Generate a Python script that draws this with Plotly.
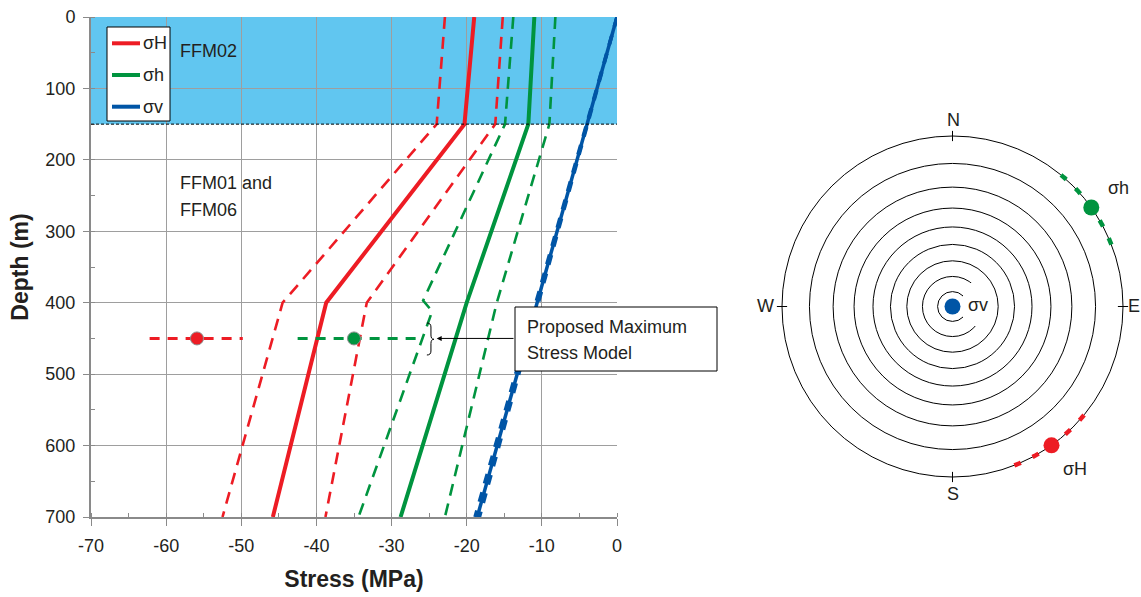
import numpy as np
import plotly.graph_objects as go

# ---------------- stress profiles (MPa, compression negative) vs depth (m) ----------------
DEPTH_SH = [0, 150, 400, 700]
SH_MEAN = [-19.0, -20.3, -38.7, -45.8]
SH_LOWER = [-22.9, -24.0, -44.5, -52.5]
SH_UPPER = [-15.2, -16.2, -33.3, -38.8]

DEPTH_Sh = [0, 150, 400, 700]
Sh_MEAN = [-11.0, -11.8, -20.0, -28.8]
DEPTH_Sh_LOWER = [0, 150, 397, 412, 700]
Sh_LOWER = [-13.8, -14.9, -25.8, -24.6, -34.4]
Sh_UPPER = [-8.2, -9.0, -16.0, -22.9]

DEPTH_SV = [0, 700]
SV_MEAN = [0.0, -18.6]
SV_LOWER = [0.0, -18.9]
SV_UPPER = [0.0, -18.3]

# proposed maximum stress model at repository depth
MEAS_DEPTH = 450
SH_MEAS = -55.9
SH_MEAS_RANGE = [-62.2, -49.8]
Sh_MEAS = -35.0
Sh_MEAS_RANGE = [-42.5, -26.4]

FFM02_BASE = 150  # depth of the FFM02 / FFM01-FFM06 boundary

STRESS_TICKS = [-70, -60, -50, -40, -30, -20, -10, 0]
DEPTH_TICKS = [0, 100, 200, 300, 400, 500, 600, 700]

# ---------------- stereonet (trend / plunge in degrees) ----------------
SH_TREND, SH_PLUNGE = 144.5, 0
SH_TREND_RANGE = [129.5, 159.5]
Sh_TREND, Sh_PLUNGE = 54.5, 0
Sh_TREND_RANGE = [39.5, 69.5]
SV_TREND, SV_PLUNGE = 0, 90
CONE_PLUNGES = [80, 70, 60, 50, 40, 30, 20, 10, 0]
CARDINALS = [0, 90, 180, 270]

LEGEND_NAMES = ["σH", "σh", "σv"]

RED = "#ED1C24"
GREEN = "#00943F"
BLUE = "#0055A6"
BAND = "#61C6F0"
GRID = "#9E9E9E"
AXIS = "#8A8A8A"
TEXT = "#231F20"
FONT = "Liberation Sans, Arial, sans-serif"

W, H = 1141, 597
ML, MR, MT, MB = 91, 0, 17, 80
PW, PH = W - ML - MR, H - MT - MB


def px_x(px):
    return (px - ML) / PW


def px_y(py):
    return (H - MB - py) / PH


def stereo_r(plunge):
    """Equal-angle (stereographic) radius for a line of given plunge."""
    return np.tan(np.radians(90 - np.asarray(plunge, dtype=float)) / 2)


fig = go.Figure()


def profile(x, y, color, width, dash=None):
    fig.add_trace(go.Scatter(
        x=x, y=y, mode="lines",
        line=dict(color=color, width=width, dash=dash),
        showlegend=False, hoverinfo="skip",
    ))


DASH = "12px,8px"
profile(SH_LOWER, DEPTH_SH, RED, 2.6, DASH)
profile(SH_UPPER, DEPTH_SH, RED, 2.6, DASH)
profile(Sh_LOWER, DEPTH_Sh_LOWER, GREEN, 2.6, DASH)
profile(Sh_UPPER, DEPTH_Sh, GREEN, 2.6, DASH)
profile(SH_MEAN, DEPTH_SH, RED, 4)
profile(Sh_MEAN, DEPTH_Sh, GREEN, 4)
profile(SV_MEAN, DEPTH_SV, BLUE, 3.5)
profile(SV_LOWER, DEPTH_SV, BLUE, 3.5, "10px,9px")
profile(SV_UPPER, DEPTH_SV, BLUE, 3.5, "10px,9px")

# stress ranges and best estimates at repository depth
for rng, val, color in [(SH_MEAS_RANGE, SH_MEAS, RED), (Sh_MEAS_RANGE, Sh_MEAS, GREEN)]:
    fig.add_trace(go.Scatter(
        x=rng, y=[MEAS_DEPTH, MEAS_DEPTH], mode="lines",
        line=dict(color=color, width=3, dash="10px,8px"),
        showlegend=False, hoverinfo="skip",
    ))
    fig.add_trace(go.Scatter(
        x=[val], y=[MEAS_DEPTH], mode="markers",
        marker=dict(color=color, size=13, line=dict(color="#8C8C8C", width=1)),
        showlegend=False, hoverinfo="skip",
    ))

# ---------------- stereonet ----------------
R_MAX = 1.04  # a little room beyond the primitive circle for ticks and arcs

# cardinal tick marks crossing the primitive circle
tick_r, tick_t = [], []
for t in CARDINALS:
    tick_r += [0.97, 1.03, None]
    tick_t += [t, t, None]
fig.add_trace(go.Scatterpolar(
    r=tick_r, theta=tick_t, mode="lines", line=dict(color="black", width=1),
    showlegend=False, hoverinfo="skip", subplot="polar",
))

for trng, color in [(Sh_TREND_RANGE, GREEN), (SH_TREND_RANGE, RED)]:
    arc_t = np.arange(trng[0], trng[1] + 0.01, 0.5)
    fig.add_trace(go.Scatterpolar(
        r=np.full(arc_t.shape, float(stereo_r(0))), theta=arc_t, mode="lines",
        line=dict(color=color, width=4.5, dash="7px,13px"),
        showlegend=False, hoverinfo="skip", subplot="polar",
    ))

fig.add_trace(go.Scatterpolar(
    r=stereo_r([Sh_PLUNGE, SH_PLUNGE, SV_PLUNGE]),
    theta=[Sh_TREND, SH_TREND, SV_TREND], mode="markers",
    marker=dict(color=[GREEN, RED, BLUE], size=16),
    showlegend=False, hoverinfo="skip", subplot="polar",
))

cx, cy, rad = 952.5, 306.5, 170.5
rad_dom = rad * R_MAX

shapes = [
    # FFM02 layer
    dict(type="rect", xref="x", yref="y", x0=-70, x1=0, y0=0, y1=FFM02_BASE,
         fillcolor=BAND, line=dict(width=0), layer="below"),
    dict(type="line", xref="x", yref="y", x0=-70, x1=0, y0=FFM02_BASE, y1=FFM02_BASE,
         line=dict(color="black", width=1, dash="3px,2px"), layer="above"),
    # call-out box
    dict(type="rect", xref="paper", yref="paper",
         x0=px_x(515), x1=px_x(717), y0=px_y(371), y1=px_y(307),
         fillcolor="white", line=dict(color="black", width=1), layer="above"),
    # brace marking the proposed range
    dict(type="path", xref="x", yref="y", layer="above",
         path=("M -25.3,428.4 Q -24.76,428.4 -24.76,434 L -24.76,445.2 "
               "Q -24.76,451.2 -24.36,451.2 Q -24.76,451.2 -24.76,457.2 "
               "L -24.76,467.6 Q -24.76,473.2 -25.3,473.2"),
         line=dict(color="black", width=1)),
    # white backing for the sigma-v label in the stereonet
    dict(type="rect", xref="paper", yref="paper",
         x0=px_x(963), x1=px_x(990), y0=px_y(326), y1=px_y(283),
         fillcolor="white", line=dict(width=0), layer="above"),
    # legend frame
    dict(type="rect", xref="paper", yref="paper",
         x0=px_x(107), x1=px_x(170), y0=px_y(121), y1=px_y(27),
         fillcolor="white", line=dict(color="black", width=1), layer="above"),
]


def label(text, x, y, xanchor="center", size=18, xref="paper", yref="paper"):
    return dict(text=text, x=x, y=y, xref=xref, yref=yref, xanchor=xanchor,
                yanchor="middle", showarrow=False, font=dict(size=size, color=TEXT))


annotations = [
    label("FFM02", -58.4, 47.6, "left", xref="x", yref="y"),
    label("FFM01 and", -58.4, 232.4, "left", xref="x", yref="y"),
    label("FFM06", -58.4, 270.0, "left", xref="x", yref="y"),
    label("Proposed Maximum", px_x(525), px_y(326.7), "left"),
    label("Stress Model", px_x(525), px_y(353.3), "left"),
    dict(x=-24.0, y=MEAS_DEPTH, xref="x", yref="y", ax=-13.57, ay=MEAS_DEPTH,
         axref="x", ayref="y", text="", showarrow=True, arrowhead=2,
         arrowsize=1, arrowwidth=1, arrowcolor="black", standoff=0),
    label("N", px_x(953), px_y(120)),
    label("S", px_x(953), px_y(494)),
    label("W", px_x(765), px_y(306)),
    label("E", px_x(1126), px_y(306), "left"),
    label("σh", px_x(1118), px_y(188)),
    label("σH", px_x(1075), px_y(469)),
    label("σv", px_x(978), px_y(305)),
]

# legend entries
for i, (name, color) in enumerate(zip(LEGEND_NAMES, [RED, GREEN, BLUE])):
    ly = 43.3 + i * 31.7
    shapes.append(dict(type="line", xref="paper", yref="paper",
                       x0=px_x(112), x1=px_x(140), y0=px_y(ly), y1=px_y(ly),
                       line=dict(color=color, width=4), layer="above"))
    annotations.append(label(name, px_x(141), px_y(ly), "left"))

fig.update_layout(
    width=W, height=H,
    margin=dict(l=ML, r=MR, t=MT, b=MB, autoexpand=False),
    paper_bgcolor="white", plot_bgcolor="white",
    font=dict(family=FONT, size=18, color=TEXT),
    showlegend=False,
    xaxis=dict(
        domain=[0, px_x(617)], range=[-70, 0],
        tickvals=STRESS_TICKS, ticktext=[str(v) for v in STRESS_TICKS],
        showgrid=True, gridcolor=GRID, gridwidth=1, zeroline=False,
        showline=True, linecolor=AXIS, linewidth=2,
        ticks="outside", ticklen=7, tickcolor=AXIS, tickwidth=1,
        minor=dict(dtick=5, tick0=0, ticks="inside", ticklen=4, tickcolor=AXIS, showgrid=False),
        tickfont=dict(size=18, color=TEXT), ticklabelstandoff=4,
        title=dict(text="<b>Stress (MPa)</b>", font=dict(size=23, color=TEXT), standoff=16),
        automargin=False, fixedrange=True,
    ),
    yaxis=dict(
        domain=[0, 1], range=[700, 0],
        tickvals=DEPTH_TICKS, ticktext=[str(v) for v in DEPTH_TICKS],
        showgrid=True, gridcolor=GRID, gridwidth=1, zeroline=False,
        showline=True, linecolor=AXIS, linewidth=2,
        ticks="outside", ticklen=6, tickcolor=AXIS, tickwidth=1,
        minor=dict(dtick=50, tick0=0, ticks="inside", ticklen=4, tickcolor=AXIS, showgrid=False),
        tickfont=dict(size=18, color=TEXT), ticklabelstandoff=4,
        title=dict(text="<b>Depth (m)</b>", font=dict(size=23, color=TEXT), standoff=10),
        automargin=False, fixedrange=True,
    ),
    polar=dict(
        domain=dict(x=[px_x(cx - rad_dom), px_x(cx + rad_dom)],
                    y=[px_y(cy + rad_dom), px_y(cy - rad_dom)]),
        bgcolor="white",
        radialaxis=dict(
            range=[0, R_MAX], tickvals=list(stereo_r(CONE_PLUNGES)),
            showticklabels=False, ticks="", showline=False,
            gridcolor="black", gridwidth=1,
        ),
        angularaxis=dict(
            rotation=90, direction="clockwise", tickvals=CARDINALS,
            showticklabels=False, ticks="", showgrid=False, showline=False,
        ),
    ),
    shapes=shapes,
    annotations=annotations,
)

fig.write_html("out.html")
